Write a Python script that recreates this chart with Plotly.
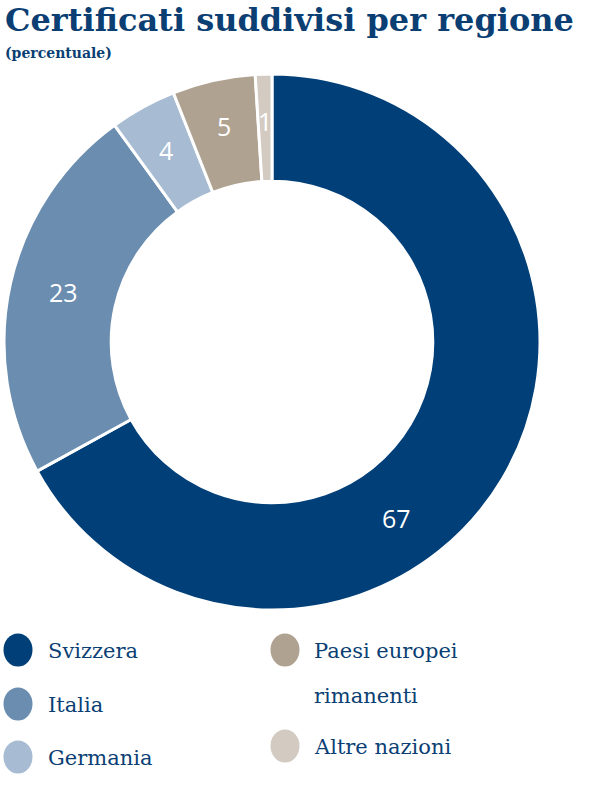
import math
import plotly.graph_objects as go

categories = ["Svizzera", "Italia", "Germania", "Paesi europei rimanenti", "Altre nazioni"]
values = [67, 23, 4, 5, 1]
labels_text = ["67", "23", "4", "5", "1"]
colors = ["#003f78", "#6a8db0", "#a7bcd2", "#b0a291", "#d3cac1"]
legend_lines = [["Svizzera"], ["Italia"], ["Germania"], ["Paesi europei", "rimanenti"], ["Altre nazioni"]]

W, H = 600, 791
TXT = "#0b3f74"
SERIF = "DejaVu Serif"

# donut geometry (pixels)
CX, CY, R_OUT = 272, 342, 268
HOLE = 0.6
# where along each slice's angular span its label sits (0.5 = middle)
label_frac = [0.6, 0.51, 0.5, 0.5, 0.5]
label_r = [215, 214, 219, 221, 221]


def px(x):
    return x / W


def py(y):
    return 1 - y / H


fig = go.Figure()
fig.add_trace(go.Pie(
    labels=categories, values=values,
    textinfo="none", sort=False, direction="clockwise", rotation=0,
    hole=HOLE,
    marker=dict(colors=colors, line=dict(color="white", width=3)),
    domain=dict(x=[px(CX - R_OUT), px(CX + R_OUT)], y=[py(CY + R_OUT), py(CY - R_OUT)]),
    showlegend=False, hoverinfo="label+value",
))

# slice labels placed from the cumulative values
total = sum(values)
cum = 0
for i, v in enumerate(values):
    ang = 2 * math.pi * (cum + v * label_frac[i]) / total
    cum += v
    lx = CX + label_r[i] * math.sin(ang)
    ly = CY - label_r[i] * math.cos(ang)
    fig.add_annotation(text=labels_text[i], x=px(lx), y=py(ly), xref="paper", yref="paper",
                       xanchor="center", yanchor="middle", showarrow=False,
                       font=dict(family="Open Sans", size=25, color="white"))

# Title and subtitle
fig.add_annotation(text="<b>Certificati suddivisi per regione</b>", x=px(3), y=py(20),
                   xref="paper", yref="paper", xanchor="left", yanchor="middle",
                   showarrow=False, font=dict(family=SERIF, size=32, color=TXT))
fig.add_annotation(text="<b>(percentuale)</b>", x=px(3), y=py(53),
                   xref="paper", yref="paper", xanchor="left", yanchor="middle",
                   showarrow=False, font=dict(family=SERIF, size=14, color=TXT))

# Custom legend
legend_pos = [(18, 650, 46), (18, 704, 46), (18, 757, 46), (285, 650, 312), (285, 746, 312)]
for i, (cx, cy, tx) in enumerate(legend_pos):
    fig.add_shape(type="circle", xref="paper", yref="paper",
                  x0=px(cx - 14.5), x1=px(cx + 14.5), y0=py(cy + 16.5), y1=py(cy - 16.5),
                  fillcolor=colors[i], line=dict(width=0))
    for j, line in enumerate(legend_lines[i]):
        fig.add_annotation(text=line, x=px(tx), y=py(cy + 1 + 45 * j),
                           xref="paper", yref="paper", xanchor="left", yanchor="middle",
                           align="left", showarrow=False,
                           font=dict(family=SERIF, size=21, color=TXT))

fig.update_layout(width=W, height=H, margin=dict(l=0, r=0, t=0, b=0),
                  paper_bgcolor="white", plot_bgcolor="white")
fig.write_html("out.html", config={"displayModeBar": False},
               post_script="document.body.style.margin='0';")
